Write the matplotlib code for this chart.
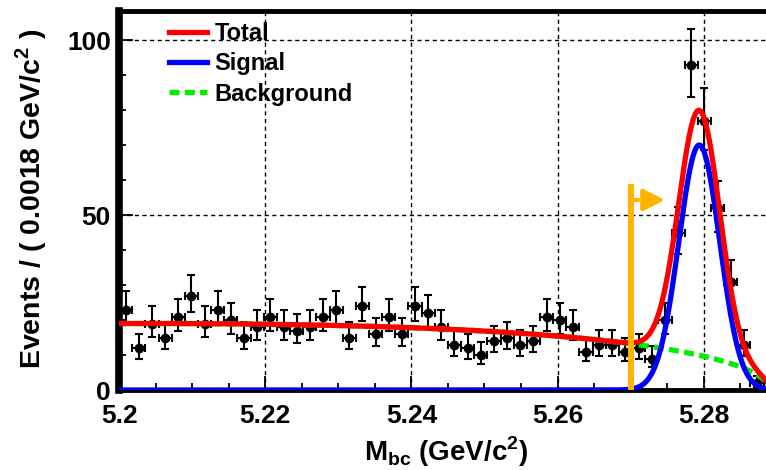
import numpy as np
import matplotlib
matplotlib.use("Agg")
import matplotlib.pyplot as plt
from matplotlib.ticker import MultipleLocator, FixedLocator, FixedFormatter

plt.rcParams["font.family"] = ["Liberation Sans", "DejaVu Sans"]
plt.rcParams["font.weight"] = "bold"
plt.rcParams["axes.labelweight"] = "bold"
plt.rcParams["mathtext.fontset"] = "custom"
plt.rcParams["mathtext.rm"] = "Liberation Sans:bold"
plt.rcParams["mathtext.bf"] = "Liberation Sans:bold"

# Mbc histogram, 0.0018 GeV/c^2 bins from 5.20 to 5.29
BIN_WIDTH = 0.0018
MBC_LOW, MBC_HIGH = 5.20, 5.29
counts = [23, 12, 19, 15, 21, 27, 19, 23, 20, 15,
          18, 21, 18, 17, 18, 21, 23, 15, 24, 16,
          21, 16, 24, 22, 18, 13, 12, 10, 14, 15,
          13, 14, 21, 20, 18, 11, 13, 13, 11, 12,
          9, 20, 45, 93, 77, 52, 31, 13, 2, 1]

# fit: ARGUS background + Gaussian signal
argus_m0 = 5.289
argus_c = -15.0
bkg_at_low_edge = 19.0
sig_mean = 5.2794
sig_sigma = 0.0028
sig_peak = 70.0

# signal-region cut
cut_mbc = 5.27
cut_top = 59.0
arrow_y = 54.3
arrow_tip = 5.2747

xticks = [5.20, 5.22, 5.24, 5.26, 5.28]
xtick_labels = ["5.2", "5.22", "5.24", "5.26", "5.28"]
yticks = [0, 50, 100]

n = np.array(counts, dtype=float)
centers = MBC_LOW + BIN_WIDTH * (np.arange(len(n)) + 0.5)
# approximate Poisson intervals
err_lo = np.sqrt(n + 0.25) - 0.5
err_hi = np.sqrt(n + 0.25) + 0.5


def argus(m):
    z = np.clip(1.0 - (m / argus_m0) ** 2, 0.0, None)
    return m * np.sqrt(z) * np.exp(argus_c * z)


m = np.linspace(MBC_LOW, MBC_HIGH, 800)
bkg = bkg_at_low_edge * argus(m) / argus(np.array(MBC_LOW))
sig = sig_peak * np.exp(-0.5 * ((m - sig_mean) / sig_sigma) ** 2)
tot = sig + bkg

fig = plt.figure(figsize=(7.66, 4.70), dpi=100)
# frame runs a little past the right edge of the canvas
ax = fig.add_axes([0.1555, 0.1702, 0.8585, 0.8064])

ax.errorbar(centers, n, yerr=[err_lo, err_hi], xerr=BIN_WIDTH / 2,
            fmt="o", color="black", ms=6, elinewidth=1.5, capsize=2.6,
            capthick=1.5, zorder=3)
ax.plot(m, bkg, color="#00ee00", lw=3.8, ls=(0, (1.9, 1.0)), zorder=4,
        label="Background")
ax.plot(m, sig, color="#0000ff", lw=3.8, zorder=5, label="Signal")
ax.plot(m, tot, color="#ff0000", lw=3.8, zorder=6, label="Total")

ax.plot([cut_mbc, cut_mbc], [0, cut_top], color="#ffb400", lw=4.3,
        solid_capstyle="butt", zorder=7)
ax.annotate("", xy=(arrow_tip, arrow_y), xytext=(cut_mbc, arrow_y),
            arrowprops=dict(arrowstyle="-|>,head_length=0.65,head_width=0.33",
                            color="#ffb400", lw=3.0, mutation_scale=20,
                            shrinkA=0, shrinkB=0), zorder=7)

ax.set_xlim(MBC_LOW, MBC_HIGH)
ax.set_ylim(0, 108.3)
ax.xaxis.set_major_locator(FixedLocator(xticks))
ax.xaxis.set_major_formatter(FixedFormatter(xtick_labels))
ax.xaxis.set_minor_locator(MultipleLocator(0.005))
ax.yaxis.set_major_locator(FixedLocator(yticks))
ax.yaxis.set_minor_locator(MultipleLocator(10))
ax.tick_params(which="both", direction="in", top=False, right=False,
               width=1.3, labelsize=19)
ax.tick_params(which="major", length=10)
ax.tick_params(which="minor", length=5)
ax.tick_params(axis="x", pad=10)
ax.tick_params(axis="y", pad=6)
ax.grid(True, which="major", color="black", lw=1.0, ls=(0, (3, 2.5)), zorder=1)
ax.set_axisbelow(True)

ax.spines["left"].set_linewidth(5.5)
for side in ("top", "bottom", "right"):
    ax.spines[side].set_linewidth(3.5)

ax.set_xlabel(r"M$_{\mathbf{bc}}$ (GeV/c$^{\mathbf{2}}$)", fontsize=20)
ax.set_ylabel(r"Events / ( 0.0018 GeV/c$^{\mathbf{2}}$ )", fontsize=20.5)
ax.xaxis.set_label_coords(0.498, -0.118)
ax.yaxis.set_label_coords(-0.106, 0.505)

h, lab = ax.get_legend_handles_labels()
order = [2, 1, 0]
ax.legend([h[i] for i in order], [lab[i] for i in order],
          loc="upper left", bbox_to_anchor=(0.0765, 0.97), frameon=False,
          fontsize=17, handlelength=1.6, handletextpad=0.3,
          labelspacing=0.3, borderpad=0, borderaxespad=0)

fig.savefig("out.png", dpi=100)
